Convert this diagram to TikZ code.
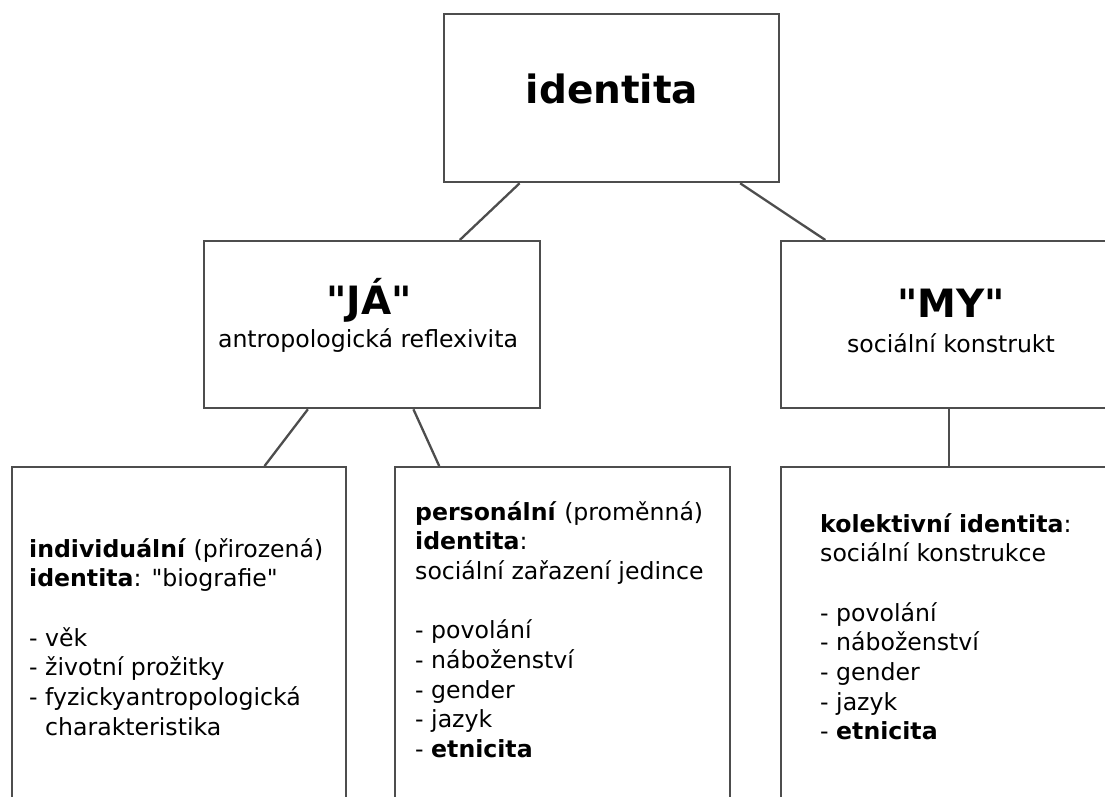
\documentclass[tikz,border=0pt]{standalone}
\usepackage{fontspec}
\setmainfont{DejaVu Sans}[Ligatures=TeXOff]
\usetikzlibrary{calc}
\definecolor{linegray}{HTML}{4D4D4D}
\tikzset{
  box/.style={draw=linegray, line width=2.3pt, anchor=north west, inner sep=0pt},
  conn/.style={draw=linegray, line width=2.3pt},
  body/.style={inner sep=0pt, anchor=base west, font=\fontsize{23.6}{29.7}\selectfont},
  subtitle/.style={inner sep=0pt, anchor=base, font=\fontsize{23.6}{29.7}\selectfont},
  title/.style={inner sep=0pt, anchor=base, font=\bfseries\fontsize{39}{44}\selectfont},
}
\begin{document}
\begin{tikzpicture}[x=1pt, y=-1pt]
\clip (0,0) rectangle (1105,796);
\fill[white] (0,0) rectangle (1105,796);
% boxes
\node[box, minimum width=335pt, minimum height=168pt] (top) at (443,13) {};
\node[box, minimum width=336pt, minimum height=167pt] (ja) at (203,240) {};
\node[box, minimum width=336pt, minimum height=167pt] (my) at (780,240) {};
\node[box, minimum width=334pt, minimum height=400pt] (ind) at (11,466) {};
\node[box, minimum width=335pt, minimum height=400pt] (per) at (394,466) {};
\node[box, minimum width=336pt, minimum height=400pt] (kol) at (780,466) {};
% connectors
\draw[conn] ($(top.south west)!0.227!(top.south east)$) -- ($(ja.north west)!0.759!(ja.north east)$);
\draw[conn] ($(top.south west)!0.881!(top.south east)$) -- ($(my.north west)!0.134!(my.north east)$);
\draw[conn] ($(ja.south west)!0.31!(ja.south east)$) -- ($(ind.north west)!0.754!(ind.north east)$);
\draw[conn] ($(ja.south west)!0.622!(ja.south east)$) -- ($(per.north west)!0.134!(per.north east)$);
\draw[conn] (my.south) -- (kol.north);
% texts
\node[title] (tidentita) at (612,103) {identita};
\node[title] (tja) at (369,314) {"JÁ"};
\node[subtitle] (tjasub) at (368,347) {antropologická reflexivita};
\node[title] (tmy) at (951,317) {"MY"};
\node[subtitle] (tmysub) at (951,352) {sociální konstrukt};
\node[body] (tind) at (29,557) {\begin{tabular}[t]{@{}l@{}}
\textbf{individuální} (přirozená)\\
\textbf{identita}: "biografie"\\
\\
- věk\\
- životní prožitky\\
- fyzickyantropologická\\
\hphantom{- }charakteristika
\end{tabular}};
\node[body] (tper) at (415,520) {\begin{tabular}[t]{@{}l@{}}
\textbf{personální} (proměnná)\\
\textbf{identita}:\\
sociální zařazení jedince\\
\\
- povolání\\
- náboženství\\
- gender\\
- jazyk\\
- \textbf{etnicita}
\end{tabular}};
\node[body] (tkol) at (820,532) {\begin{tabular}[t]{@{}l@{}}
\textbf{kolektivní identita}:\\
sociální konstrukce\\
\\
- povolání\\
- náboženství\\
- gender\\
- jazyk\\
- \textbf{etnicita}
\end{tabular}};
\end{tikzpicture}
\end{document}
